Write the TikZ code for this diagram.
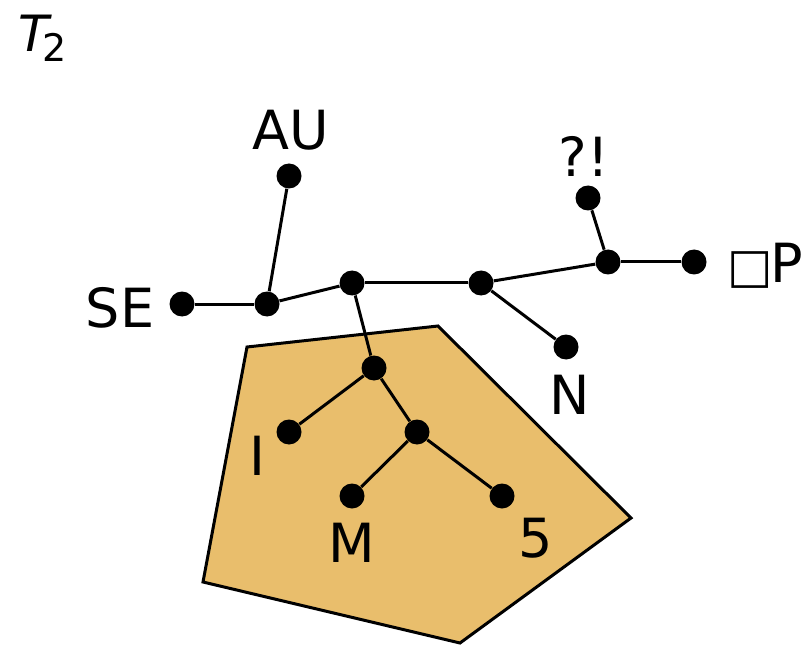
\documentclass[tikz,border=0pt]{standalone}
\usepackage{fontspec}
\setmainfont{DejaVu Sans}
\usetikzlibrary{positioning}
\definecolor{regionfill}{RGB}{233,190,108}

\begin{document}
\begin{tikzpicture}[
  x=0.5pt, y=-0.5pt,
  vtx/.style={circle, fill=black, inner sep=0pt, minimum size=12.5pt},
  edge/.style={draw, line width=1.5pt},
  lbl/.style={inner sep=0pt, font=\fontsize{27}{32}\selectfont},
  region/.style={draw, line width=1.5pt, fill=regionfill, line join=miter}]
\useasboundingbox (0,0) rectangle (812,646);
% ---------------- shaded region ----------------
\draw[region] (247,347) -- (438,326) -- (631,518) -- (460,643) -- (203,582) -- cycle;
% ---------------- vertices ----------------
\node[vtx] (au) at (289,176) {};
\node[vtx] (se) at (182,304) {};
\node[vtx] (ja) at (267,304) {};
\node[vtx] (jb) at (352,283) {};
\node[vtx] (jc) at (481,283) {};
\node[vtx] (n)  at (566,347) {};
\node[vtx] (jd) at (608,262) {};
\node[vtx] (qx) at (588,198) {};
\node[vtx] (bp) at (694,262) {};
\node[vtx] (je) at (374,368) {};
\node[vtx] (i)  at (289,432) {};
\node[vtx] (jf) at (417,432) {};
\node[vtx] (m)  at (352,496) {};
\node[vtx] (five) at (502,496) {};
% ---------------- edges ----------------
\draw[edge] (se) -- (ja); \draw[edge] (au) -- (ja); \draw[edge] (ja) -- (jb);
\draw[edge] (jb) -- (jc); \draw[edge] (jc) -- (n); \draw[edge] (jc) -- (jd);
\draw[edge] (jd) -- (qx); \draw[edge] (jd) -- (bp);
\draw[edge] (jb) -- (je); \draw[edge] (je) -- (i); \draw[edge] (je) -- (jf);
\draw[edge] (jf) -- (m); \draw[edge] (jf) -- (five);
% ---------------- labels ----------------
\node[lbl, anchor=west] (title) at (18,38) {\fontsize{25}{30}\selectfont\itshape T\kern-0.12em\raisebox{-0.2em}{\upshape\fontsize{19}{22}\selectfont 2}};
\node[lbl] (lau) at (291,130) {AU};
\node[lbl] (lse) at (120,308) {SE};
\node[lbl] (lqx) at (584,156) {?!};
\node[lbl, anchor=west] (lbp) at (727,266) {{\fontsize{24}{28}\selectfont □}\kern-0.05em P};
\node[lbl] (ln) at (570,395) {N};
\node[lbl] (li) at (257,456) {I};
\node[lbl] (lm) at (352,543) {M};
\node[lbl] (lfive) at (536,538) {5};
\end{tikzpicture}
\end{document}
